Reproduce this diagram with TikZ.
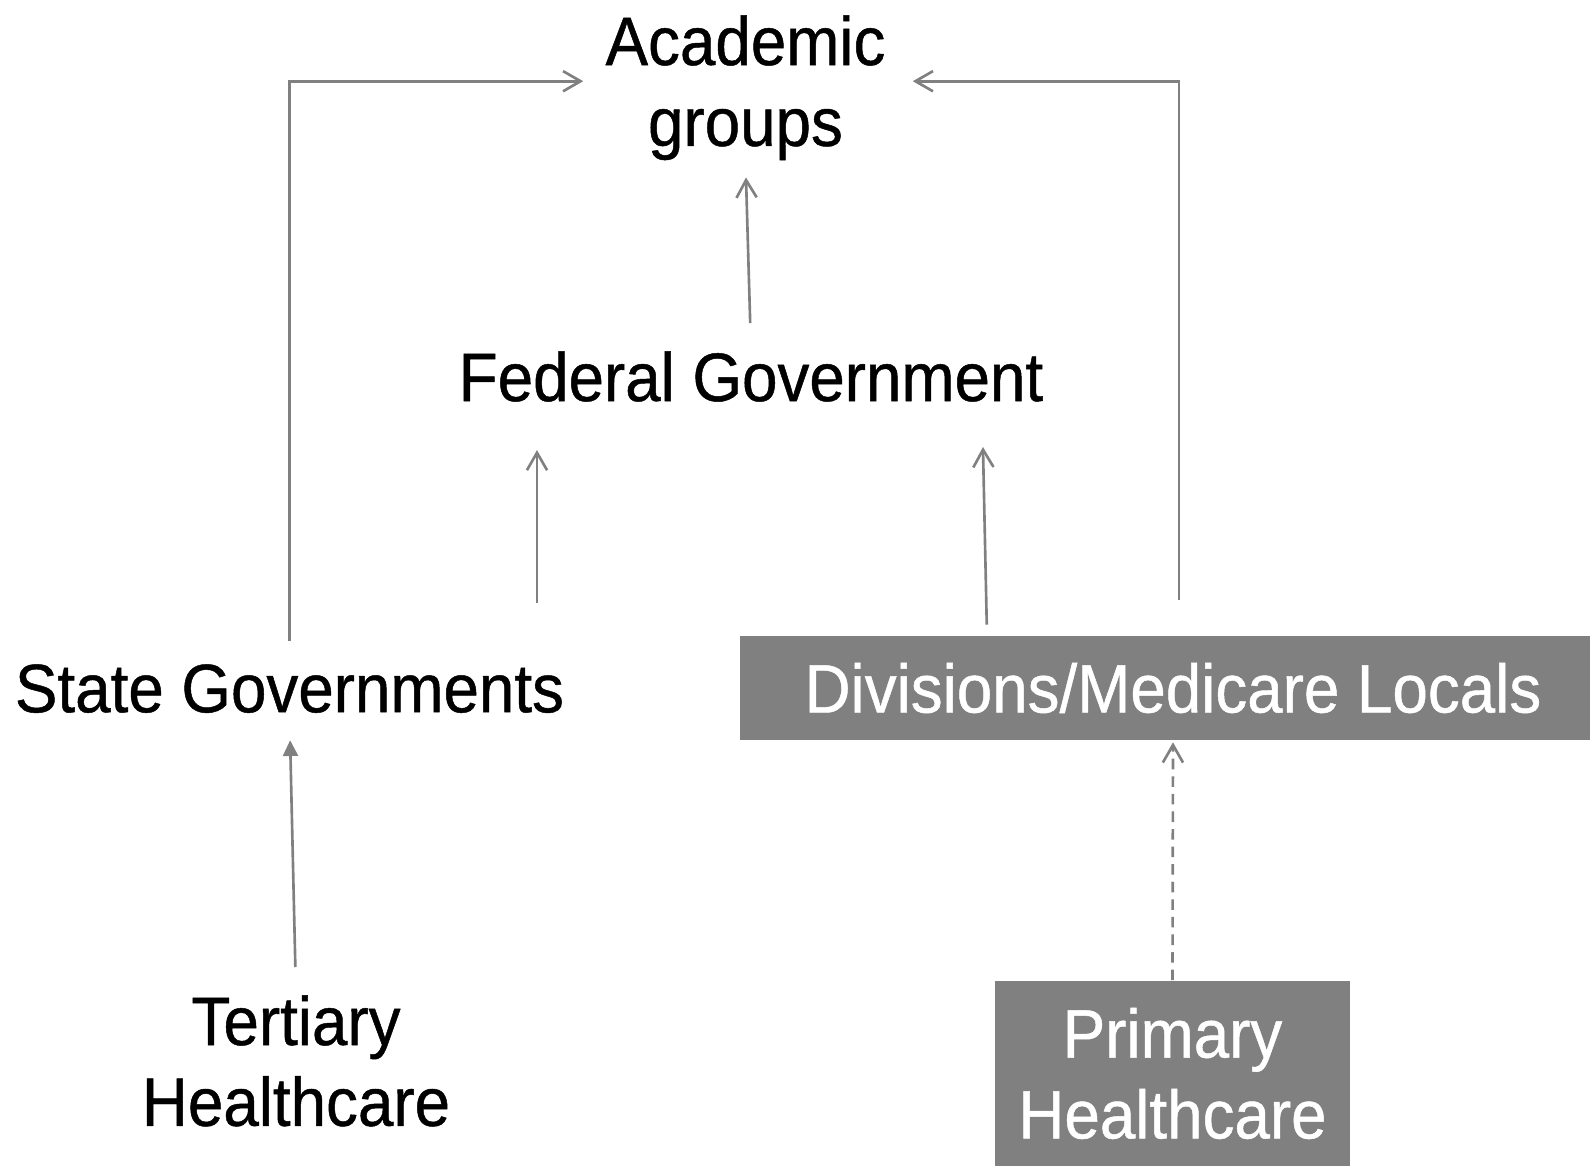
\documentclass[tikz,border=0pt]{standalone}
\usepackage{fontspec}
\setmainfont[FakeStretch=0.93,FakeBold=0.7]{Liberation Sans}
\usepackage{tikz}
\usetikzlibrary{arrows.meta}
\definecolor{arrowgray}{RGB}{128,128,128}
\definecolor{boxgray}{RGB}{128,128,128}

\begin{document}
\begin{tikzpicture}[
    lbl/.style={inner sep=0pt, align=center, font=\fontsize{39}{46}\selectfont},
    grbox/.style={fill=boxgray, text=white, inner sep=0pt, align=center, font=\fontsize{39}{46}\selectfont},
    arr/.style={draw=arrowgray, line width=1.5pt, -{Straight Barb[length=10pt,width=11.5pt]}},
    tarr/.style={draw=arrowgray, line width=1.5pt, -{Triangle[length=9pt,width=8.5pt]}}
]
        \useasboundingbox (0,0) rectangle (31.8,-23.32);
        % levels
        \node[lbl, anchor=north] (acad) at (14.91,-0.30) {Academic\\groups};
        \node[lbl, anchor=north] (fed) at (15.02,-7.02) {Federal Government};
        \node[lbl, anchor=north] (state) at (5.79,-13.28) {State Governments};
        \node[grbox, minimum width=17.32cm, minimum height=2.08cm] (div) at (23.46,-13.76) {Divisions/Medicare Locals};
        \node[lbl, anchor=north] (tert) at (5.92,-19.90) {Tertiary\\Healthcare};
        \node[grbox, minimum width=7.1cm, minimum height=3.72cm] (prim) at (23.45,-21.47) {Primary\\Healthcare};
        % connectors
        \draw[tarr, shorten <=0.56cm, shorten >=0.54cm] (tert.north) -- (state.south);
        \draw[arr, shorten <=0.46cm, shorten >=0.44cm] (state.north) |- ([yshift=0.13cm]acad.west);
        \draw[arr, shorten <=1.22cm, shorten >=0.96cm] ([xshift=4.95cm]state.north) -- ([xshift=4.95cm]state.north |- fed.south);
        \draw[arr, shorten <=0.22cm, shorten >=0.9cm] ([xshift=-3.72cm]div.north) -- ([xshift=4.62cm]fed.south);
        \draw[arr, shorten <=0.56cm, shorten >=0.34cm] (fed.north) -- (acad.south);
        \draw[arr, shorten <=0.72cm, shorten >=0.54cm] ([xshift=0.12cm]div.north) |- ([yshift=0.13cm]acad.east);
        \draw[arr, dash pattern=on 6pt off 4pt, shorten >=0.04cm] (prim.north) -- (div.south);
\end{tikzpicture}
\end{document}
